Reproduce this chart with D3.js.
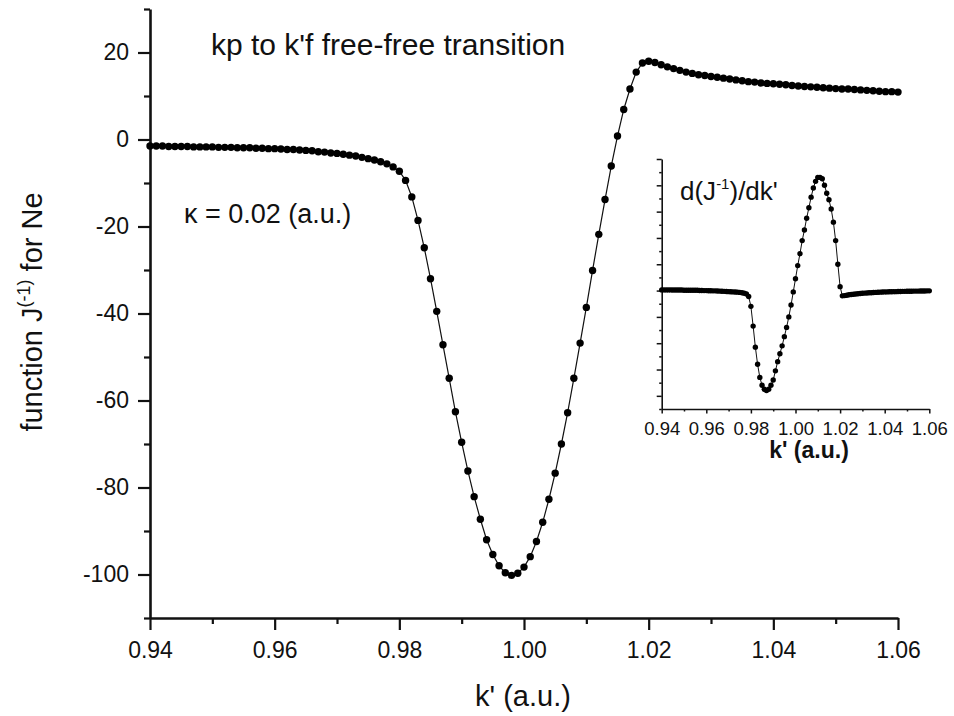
<!DOCTYPE html>
<html><head><meta charset="utf-8">
<script src="https://cdn.jsdelivr.net/npm/d3@7"></script>
<style>
body{margin:0;background:#fff}
svg{display:block}
text{font-family:"Liberation Sans",Arial,Helvetica,sans-serif;fill:#111}
</style></head><body>
<script>
// ---------- data ----------
const kStart = 0.94, kStep = 0.001;           // sampling grid of k' (a.u.)
// J^(-1) for Ne, one value per k' step from 0.940 to 1.060
const mainValues = [
  -1.5,-1.5,-1.5,-1.6,-1.6,-1.6,-1.6,-1.7,-1.7,-1.7,
  -1.7,-1.8,-1.8,-1.8,-1.9,-1.9,-1.9,-2.0,-2.0,-2.1,
  -2.1,-2.2,-2.3,-2.3,-2.4,-2.5,-2.6,-2.8,-2.9,-3.1,
  -3.2,-3.4,-3.6,-3.8,-4.1,-4.4,-4.7,-5.1,-5.6,-6.3,
  -7.3,
  -9.4,-13.2,-18.6,-24.9,-32.0,-39.5,-47.2,-54.9,-62.6,-69.6,
  -76.2,-82.1,-87.3,-92.0,-95.4,-98.0,-99.6,-100.2,-99.7,-98.3,
  -95.9,-92.4,-88.0,-82.7,-76.7,-70.0,-62.8,-54.9,-46.8,-38.6,
  -30.1,-21.8,-13.8,-6.1,0.8,6.9,11.6,15.5,17.6,18.0,
  17.7,17.2,16.7,16.3,15.9,15.5,15.2,14.9,14.7,14.5,
  14.3,14.1,13.9,13.7,13.5,13.3,13.2,13.0,12.9,12.8,
  12.7,12.6,12.4,12.3,12.2,12.1,12.0,11.9,11.8,11.7,
  11.6,11.6,11.5,11.4,11.3,11.2,11.1,11.0,11.0,10.9
];
// d(J^-1)/dk' (inset, arbitrary units), same k' grid
const insetValues = [
  0.05,0.05,0.05,0.05,0.05,0.04,0.04,0.04,0.04,0.04,
  0.03,0.03,0.03,0.03,0.02,0.02,0.02,0.01,0.01,0.0,
  0.0,-0.01,-0.01,-0.02,-0.02,-0.03,-0.04,-0.05,-0.06,-0.07,
  -0.08,-0.09,-0.1,-0.11,-0.12,-0.14,-0.16,-0.2,-0.26,-0.45,
  -1.2,
  -2.7,-4.3,-5.6,-6.6,-7.2,-7.5,-7.6,-7.5,-7.2,-6.8,
  -6.1,-5.4,-4.8,-4.2,-3.5,-2.8,-2.0,-1.1,-0.1,0.9,
  1.9,2.8,3.8,4.6,5.5,6.3,7.1,7.8,8.3,8.6,
  8.6,8.5,8.0,7.4,6.9,6.2,5.2,3.8,2.0,0.3,
  -0.4,-0.38,-0.35,-0.32,-0.3,-0.28,-0.26,-0.24,-0.22,-0.2,
  -0.19,-0.18,-0.17,-0.16,-0.15,-0.14,-0.13,-0.12,-0.11,-0.1,
  -0.1,-0.09,-0.09,-0.08,-0.08,-0.07,-0.07,-0.06,-0.06,-0.05,
  -0.05,-0.05,-0.04,-0.04,-0.04,-0.03,-0.03,-0.03,-0.02,-0.02
];
const xMajorTicks = [0.94,0.96,0.98,1.00,1.02,1.04,1.06];
const xTickLabels = ["0.94","0.96","0.98","1.00","1.02","1.04","1.06"];
const xMinorTicks = [0.95,0.97,0.99,1.01,1.03,1.05];
const yMajorTicks = [20,0,-20,-40,-60,-80,-100];
const yTickLabels = ["20","0","-20","-40","-60","-80","-100"];
const yMinorTicks = [30,10,-10,-30,-50,-70,-90,-110];
const insetYMajor = [10,8,6,4,2,0,-2,-4,-6,-8];
const insetYMinor = [9,7,5,3,1,-1,-3,-5,-7,-9];

const mainData = mainValues.map((v,i)=>({k:kStart+i*kStep, v}));
const insetData = insetValues.map((v,i)=>({k:kStart+i*kStep, v}));

// ---------- layout ----------
const W = 954, H = 716;
const svg = d3.select("body").append("svg").attr("width",W).attr("height",H);

const x = d3.scaleLinear().domain([0.94,1.06]).range([150,898]);
const y = d3.scaleLinear().domain([-110,30]).range([618,9]);

const FONT = '"Liberation Sans",Arial,Helvetica,sans-serif';

function styleAxis(g, fs){
  g.attr("font-family",FONT).attr("font-size",fs);
  g.selectAll("line").attr("stroke","#111");
  g.selectAll("path.domain").attr("stroke","#111");
  g.selectAll("text").attr("fill","#111");
}

// main x axis
const gx = svg.append("g").attr("transform",`translate(0,${y(-110)})`);
gx.call(d3.axisBottom(x).tickValues(xMajorTicks).tickSize(12).tickSizeOuter(0)
  .tickPadding(11.5).tickFormat((d,i)=>xTickLabels[i]));
styleAxis(gx,23);
gx.selectAll("line").attr("stroke-width",2.2);
gx.select("path.domain").attr("stroke-width",2.6);
const gxm = svg.append("g").attr("transform",`translate(0,${y(-110)})`);
gxm.call(d3.axisBottom(x).tickValues(xMinorTicks).tickSize(6).tickFormat(""));
gxm.select("path.domain").remove();
gxm.selectAll("line").attr("stroke","#111").attr("stroke-width",2.2);

// main y axis
const gy = svg.append("g").attr("transform",`translate(${x(0.94)},0)`);
gy.call(d3.axisLeft(y).tickValues(yMajorTicks).tickSize(12).tickSizeOuter(0)
  .tickPadding(9).tickFormat((d,i)=>yTickLabels[i]));
styleAxis(gy,23);
gy.selectAll("line").attr("stroke-width",2.2);
gy.select("path.domain").attr("stroke-width",2.6);
const gym = svg.append("g").attr("transform",`translate(${x(0.94)},0)`);
gym.call(d3.axisLeft(y).tickValues(yMinorTicks).tickSize(6).tickFormat(""));
gym.select("path.domain").remove();
gym.selectAll("line").attr("stroke","#111").attr("stroke-width",2.2);

// main curve
svg.append("path").datum(mainData)
  .attr("fill","none").attr("stroke","#111").attr("stroke-width",1.2)
  .attr("d",d3.line().x(d=>x(d.k)).y(d=>y(d.v)));
svg.append("g").selectAll("circle").data(mainData).join("circle")
  .attr("cx",d=>x(d.k)).attr("cy",d=>y(d.v)).attr("r",3.7).attr("fill","#000");

// main texts
svg.append("text").attr("x",523).attr("y",706).attr("text-anchor","middle")
  .attr("font-size",29).text("k' (a.u.)");
const yl = svg.append("text").attr("transform","translate(42,312) rotate(-90)")
  .attr("text-anchor","middle").attr("font-size",29);
yl.append("tspan").text("function J");
yl.append("tspan").attr("font-size",18).attr("dy",-12).text("(-1)");
yl.append("tspan").attr("dy",12).text(" for Ne");
svg.append("text").attr("x",211).attr("y",55).attr("font-size",30)
  .text("kp to k'f free-free transition");
svg.append("text").attr("x",184).attr("y",223).attr("font-size",27)
  .text("\u03BA = 0.02 (a.u.)");

// ---------- inset ----------
const xi = d3.scaleLinear().domain([0.94,1.06]).range([661.7,929.3]);
const yi = d3.scaleLinear().domain([-9,10]).range([409,159]);

const gxi = svg.append("g").attr("transform",`translate(0,${yi(-9)})`);
gxi.call(d3.axisBottom(xi).tickValues(xMajorTicks).tickSize(4.5).tickSizeOuter(0)
  .tickPadding(8).tickFormat((d,i)=>xTickLabels[i]));
styleAxis(gxi,18.5);
gxi.selectAll("line").attr("stroke-width",1.5);
gxi.select("path.domain").attr("stroke-width",1.6);
const gxim = svg.append("g").attr("transform",`translate(0,${yi(-9)})`);
gxim.call(d3.axisBottom(xi).tickValues(xMinorTicks).tickSize(2.5).tickFormat(""));
gxim.select("path.domain").remove();
gxim.selectAll("line").attr("stroke","#111").attr("stroke-width",1.5);

const gyi = svg.append("g").attr("transform",`translate(${xi(0.94)},0)`);
gyi.call(d3.axisLeft(yi).tickValues(insetYMajor).tickSize(5).tickSizeOuter(0).tickFormat(""));
styleAxis(gyi,10);
gyi.selectAll("line").attr("stroke-width",1.5);
gyi.select("path.domain").attr("stroke-width",1.6);
const gyim = svg.append("g").attr("transform",`translate(${xi(0.94)},0)`);
gyim.call(d3.axisLeft(yi).tickValues(insetYMinor).tickSize(2.5).tickFormat(""));
gyim.select("path.domain").remove();
gyim.selectAll("line").attr("stroke","#111").attr("stroke-width",1.5);

svg.append("path").datum(insetData)
  .attr("fill","none").attr("stroke","#111").attr("stroke-width",1)
  .attr("d",d3.line().x(d=>xi(d.k)).y(d=>yi(d.v)));
svg.append("g").selectAll("circle").data(insetData).join("circle")
  .attr("cx",d=>xi(d.k)).attr("cy",d=>yi(d.v)).attr("r",2.7).attr("fill","#000");

svg.append("text").attr("x",809).attr("y",458).attr("text-anchor","middle")
  .attr("font-size",23).attr("font-weight","bold").text("k' (a.u.)");
const dl = svg.append("text").attr("x",680).attr("y",200).attr("font-size",26);
dl.append("tspan").text("d(J");
dl.append("tspan").attr("font-size",15).attr("dy",-11).text("-1");
dl.append("tspan").attr("dy",11).text(")/dk'");
</script>
</body></html>
